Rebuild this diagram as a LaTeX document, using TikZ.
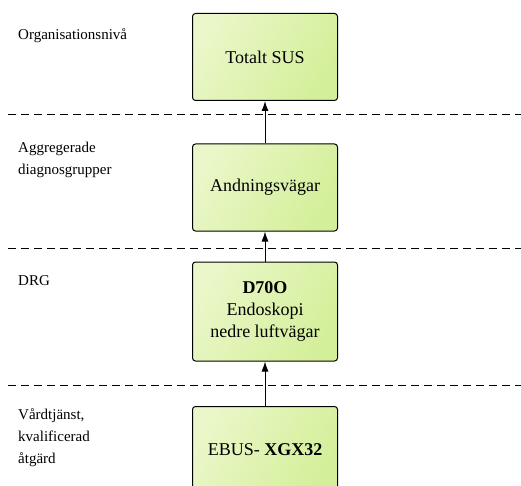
\documentclass[tikz,border=0pt]{standalone}
\usepackage{fontspec}
\setmainfont{Liberation Serif}
\usetikzlibrary{positioning,arrows.meta}
\definecolor{boxleft}{HTML}{EAF7C8}
\definecolor{boxright}{HTML}{D4EF9A}

\begin{document}
\begin{tikzpicture}[
  x=1pt, y=-1pt, >={Latex[length=10pt,width=7pt]},
  box/.style={draw, line width=1pt, rounded corners=3pt, minimum width=145pt,
    minimum height=87pt, align=center, left color=boxleft, right color=boxright,
    shading angle=60, font=\fontsize{18}{22}\selectfont},
  lvl/.style={anchor=north west, inner sep=0pt, align=left, font=\fontsize{15}{22}\selectfont},
  sep/.style={dashed, dash pattern=on 8pt off 5pt, line width=1pt},
]
  \useasboundingbox (0,0) rectangle (521,486);
  % levels
  \node[lvl] (orgniva) at (18,28) {Organisationsnivå};
  \node[lvl] (aggniva) at (18,142) {Aggregerade\\diagnosgrupper};
  \node[lvl] (drgniva) at (18,275) {DRG};
  \node[lvl] (vtniva) at (18,408) {Vårdtjänst,\\kvalificerad\\åtgärd};
  % separators
  \draw[sep] (8,115) -- (521,115);
  \draw[sep] (8,248) -- (521,248);
  \draw[sep] (8,385) -- (521,385);
  % boxes
  \node[box] (sus) at (265,57) {Totalt SUS};
  \node[box] (andning) at (265,187.5) {Andningsvägar};
  \node[box, minimum height=99pt] (drg) at (265,311.5) {\textbf{D70O}\\Endoskopi\\nedre luftvägar};
  \node[box] (ebus) at (265,450) {EBUS- \textbf{XGX32}};
  % arrows
  \draw[->, line width=1pt] (ebus) -- (drg);
  \draw[->, line width=1pt] (drg) -- (andning);
  \draw[->, line width=1pt] (andning) -- (sus);
\end{tikzpicture}
\end{document}
